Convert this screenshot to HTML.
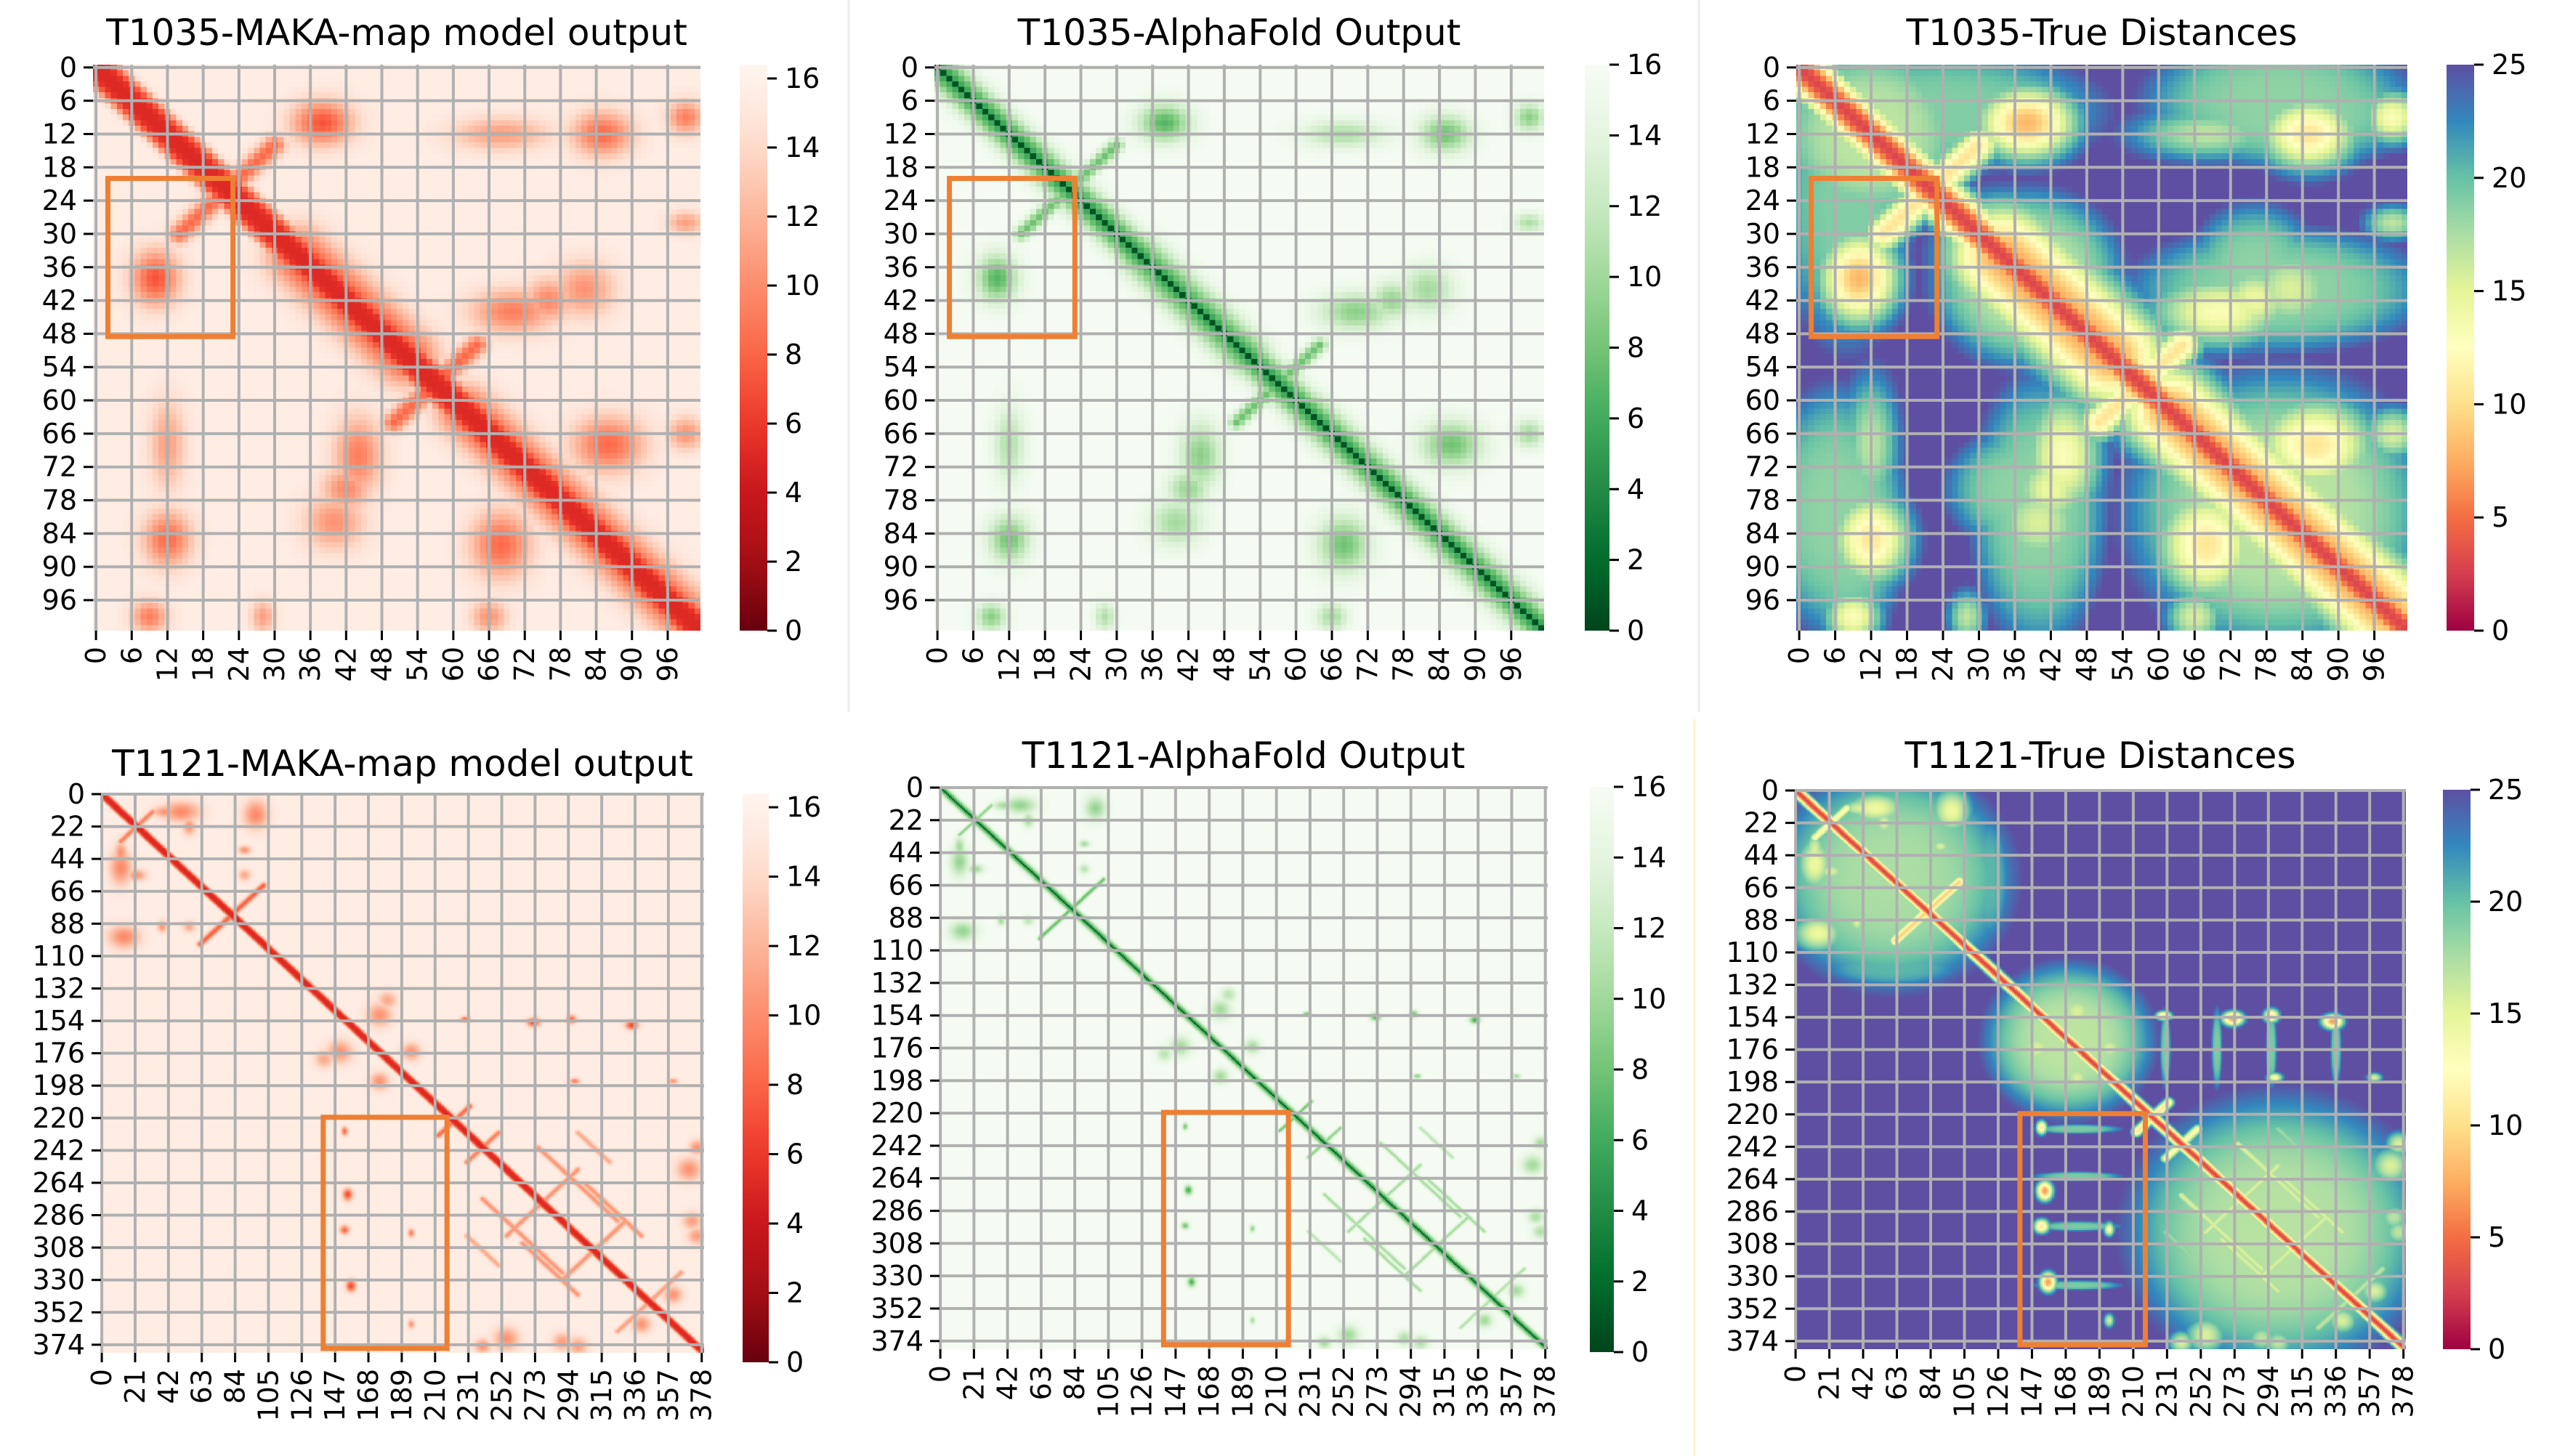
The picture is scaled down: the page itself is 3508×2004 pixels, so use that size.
<!DOCTYPE html>
<html><head><meta charset="utf-8">
<style>
html,body{margin:0;padding:0;background:#fff;}
#root{position:relative;width:3508px;height:2004px;overflow:hidden;background:#fff;font-family:"DejaVu Sans","Liberation Sans",sans-serif;}
canvas{position:absolute;image-rendering:pixelated;}
svg{position:absolute;left:0;top:0;}
</style></head>
<body>
<div id="root">
<svg id="ov" width="3508" height="2004"></svg>
</div>
<script>
// ---------- data: T1035 (102 residues) ----------
const t1035N = 102;
const t1035BlobI  = [10, 12,  9, 44, 12, 40, 68, 28, 66, 42];
const t1035BlobJ  = [38, 85, 99, 70, 68, 82, 86, 99, 99, 76];
const t1035BlobRI = [ 4,  4,  3,  4,  3,  5,  5,  2,  3,  4];
const t1035BlobRJ = [ 5,  5,  3,  7,  8,  5,  6,  3,  3,  4];
const t1035BlobS  = [.8, .7, .6, .6, .45, .5, .7, .45, .5, .55];
const t1035SegI0 = [14, 50, 34, 62];
const t1035SegJ0 = [30, 64, 34, 62];
const t1035SegI1 = [30, 64, 52, 98];
const t1035SegJ1 = [14, 50, 52, 98];
const t1035SegW  = [1.8, 1.8, 5, 4.5];
const t1035SegS  = [.7, .7, .85, .85];
const t1035DomI  = [12, 38, 80,  8, 40, 80, 76, 24];
const t1035DomJ  = [12, 38, 80, 82, 80,  6, 38,  8];
const t1035DomRI = [14, 14, 22,  9, 10, 20, 10, 24];
const t1035DomRJ = [14, 14, 22, 20, 22, 10, 12, 10];
const t1035DomS  = [.45,.45,.45,.38,.38,.38,.38,.36];
// ---------- data: T1121 (380 residues) ----------
const t1121N = 380;
const t1121BlobI  = [12, 14, 12, 22, 38, 55, 150, 175, 140, 153, 155, 153, 157, 195, 195, 255, 240, 300, 290, 340];
const t1121BlobJ  = [50, 97, 40, 55, 90, 90, 175, 195, 180, 229, 272, 296, 334, 298, 360, 370, 375, 375, 372, 360];
const t1121BlobRI = [ 7, 10,  4,  6,  3,  4,   8,   6,   6,   2,   3,   3,   3,   2,   2,   8,   5,   6,   6,   6];
const t1121BlobRJ = [12,  8,  8,  4,  4,  4,   8,   6,   6,   3,   4,   3,   4,   3,   3,   8,   5,   6,   6,   6];
const t1121BlobS  = [.55,.55,.5,.5,.5,.4, .5, .5, .4, .7, .85, .7, .85, .6, .5, .5, .5, .45, .45, .5];
const t1121SegI0 = [ 62, 12, 212, 230, 240, 265, 230, 255, 290, 325];
const t1121SegJ0 = [102, 32, 232, 250, 275, 305, 300, 300, 330, 365];
const t1121SegI1 = [102, 32, 232, 250, 290, 300, 250, 300, 330, 350];
const t1121SegJ1 = [ 62, 12, 212, 230, 325, 340, 320, 255, 290, 340];
const t1121SegW  = [2.2, 2, 2, 2, 2, 2, 2, 2, 2, 2];
const t1121SegS  = [.75, .6, .7, .6, .5, .5, .4, .5, .5, .45];
const t1121DomI  = [60, 170, 300, 175, 175, 175, 175, 60];
const t1121DomJ  = [60, 170, 300, 230, 262, 296, 336, 120];
const t1121DomRI = [65,  45,  80,  25,  25,  25,  25, 40];
const t1121DomRJ = [65,  45,  80,   3,   3,   3,   3, 12];
const t1121DomS  = [.42, .45, .44, .35, .35, .35, .35, .3];
// ---------- tick labels ----------
const topTicks = [0,6,12,18,24,30,36,42,48,54,60,66,72,78,84,90,96];
const botXTicks = [0,21,42,63,84,105,126,147,168,189,210,231,252,273,294,315,336,357,378];
const botYTicks = [0,22,44,66,88,110,132,154,176,198,220,242,264,286,308,330,352,374];
const cb16Ticks = [0,2,4,6,8,10,12,14,16];
const cb25Ticks = [0,5,10,15,20,25];
const boxTop = [2.5, 23.5, 20.5, 49];
const boxBot = [140, 218, 220, 377];

const proteins = {
  T1035:{n:t1035N,bi:t1035BlobI,bj:t1035BlobJ,bri:t1035BlobRI,brj:t1035BlobRJ,bs:t1035BlobS,
    si0:t1035SegI0,sj0:t1035SegJ0,si1:t1035SegI1,sj1:t1035SegJ1,sw:t1035SegW,ss:t1035SegS,
    di:t1035DomI,dj:t1035DomJ,dri:t1035DomRI,drj:t1035DomRJ,ds:t1035DomS},
  T1121:{n:t1121N,bi:t1121BlobI,bj:t1121BlobJ,bri:t1121BlobRI,brj:t1121BlobRJ,bs:t1121BlobS,
    si0:t1121SegI0,sj0:t1121SegJ0,si1:t1121SegI1,sj1:t1121SegJ1,sw:t1121SegW,ss:t1121SegS,
    di:t1121DomI,dj:t1121DomJ,dri:t1121DomRI,drj:t1121DomRJ,ds:t1121DomS}
};

const REDS=["#fff5f0","#fee0d2","#fcbba1","#fc9272","#fb6a4a","#ef3b2c","#cb181d","#a50f15","#67000d"];
const GREENS=["#f7fcf5","#e5f5e0","#c7e9c0","#a1d99b","#74c476","#41ab5d","#238b45","#006d2c","#00441b"];
const SPECTRAL=["#9e0142","#d53e4f","#f46d43","#fdae61","#fee08b","#ffffbf","#e6f598","#abdda4","#66c2a5","#3288bd","#5e4fa2"];
function hex(h){return [parseInt(h.slice(1,3),16),parseInt(h.slice(3,5),16),parseInt(h.slice(5,7),16)];}
function cmap(arr,t){t=Math.max(0,Math.min(1,t));const f=t*(arr.length-1);const k=Math.min(arr.length-2,Math.floor(f));const u=f-k;
  const a=hex(arr[k]),b=hex(arr[k+1]);return [a[0]+(b[0]-a[0])*u,a[1]+(b[1]-a[1])*u,a[2]+(b[2]-a[2])*u];}

const kinds={
  model:{diag:d=>Math.exp(-Math.pow(Math.abs(d)/4.2,4)),rs:1,sm:1,swf:1,dom:false,
    val:c=>15.6-10.5*c,color:(v,vm)=>cmap(REDS,1-v/vm)},
  af:{diag:d=>Math.max(Math.exp(-Math.pow(d/1.2,2)),0.7*Math.exp(-Math.pow(d/4,2))),rs:0.85,sm:0.75,swf:0.7,dom:false,
    val:c=>15.8-15*c,color:(v,vm)=>cmap(GREENS,1-v/vm)},
  tru:{diag:d=>Math.exp(-Math.pow(d/6,2)),rs:1.8,sm:1,swf:2,dom:true,
    val:c=>Math.min(25,28-25*c),color:(v,vm)=>cmap(SPECTRAL,v/vm)}
};
function segDist(i,j,a0,b0,a1,b1){const dx=a1-a0,dy=b1-b0;const L=dx*dx+dy*dy;let t=L?((i-a0)*dx+(j-b0)*dy)/L:0;t=Math.max(0,Math.min(1,t));
  const px=a0+t*dx-i,py=b0+t*dy-j;return Math.sqrt(px*px+py*py);}
function contact(P,K,i,j,scaleN){
  let c=K.diag((i-j)/scaleN);
  for(let m=0;m<P.bi.length;m++){
    const ri=P.bri[m]*K.rs,rj=P.brj[m]*K.rs;
    for(const [a,b] of [[i,j],[j,i]]){const e=Math.pow((a-P.bi[m])/ri,2)+Math.pow((b-P.bj[m])/rj,2);
      if(e<9){const v=P.bs[m]*K.sm*Math.exp(-e);if(v>c)c=v;}}
  }
  for(let m=0;m<P.si0.length;m++){
    for(const [a,b] of [[i,j],[j,i]]){const d=segDist(a,b,P.si0[m],P.sj0[m],P.si1[m],P.sj1[m]);
      const v=P.ss[m]*K.sm*Math.exp(-Math.pow(d/(P.sw[m]*K.swf*scaleN),2));if(v>c)c=v;}
  }
  if(K.dom){for(let m=0;m<P.di.length;m++){
    for(const [a,b] of [[i,j],[j,i]]){const e=Math.pow((a-P.di[m])/P.dri[m],2)+Math.pow((b-P.dj[m])/P.drj[m],2);
      const v=P.ds[m]*Math.exp(-e*e*0.5);if(v>c)c=v;}}}
  return c;
}

const panels=[
 {p:"T1035",k:"model",x0:128,x1:964,y0:89,y1:868,cb:[1018,1056,89,868],title:"T1035-MAKA-map model output",ty:45,xt:topTicks,yt:topTicks,cbt:cb16Ticks,vmax:16.4,box:boxTop,name:"t1035-maka"},
 {p:"T1035",k:"af",x0:1286,x1:2125,y0:89,y1:868,cb:[2181,2215,89,868],title:"T1035-AlphaFold Output",ty:45,xt:topTicks,yt:topTicks,cbt:cb16Ticks,vmax:16,box:boxTop,name:"t1035-alphafold"},
 {p:"T1035",k:"tru",x0:2472,x1:3313,y0:89,y1:868,cb:[3367,3405,89,868],title:"T1035-True Distances",ty:45,xt:topTicks,yt:topTicks,cbt:cb25Ticks,vmax:25,box:boxTop,name:"t1035-true"},
 {p:"T1121",k:"model",x0:139,x1:969,y0:1092,y1:1862,cb:[1022,1058,1092,1875],title:"T1121-MAKA-map model output",ty:1051,xt:botXTicks,yt:botYTicks,cbt:cb16Ticks,vmax:16.4,box:boxBot,name:"t1121-maka"},
 {p:"T1121",k:"af",x0:1293,x1:2130,y0:1083,y1:1857,cb:[2188,2221,1083,1861],title:"T1121-AlphaFold Output",ty:1040,xt:botXTicks,yt:botYTicks,cbt:cb16Ticks,vmax:16,box:boxBot,name:"t1121-alphafold"},
 {p:"T1121",k:"tru",x0:2470,x1:3311,y0:1087,y1:1857,cb:[3362,3400,1087,1857],title:"T1121-True Distances",ty:1040,xt:botXTicks,yt:botYTicks,cbt:cb25Ticks,vmax:25,box:boxBot,name:"t1121-true"}
];

const root=document.getElementById('root');
const ov=document.getElementById('ov');
const NS="http://www.w3.org/2000/svg";
function S(tag,attrs,parent){const e=document.createElementNS(NS,tag);for(const k in attrs)e.setAttribute(k,attrs[k]);(parent||ov).appendChild(e);return e;}

const sep1=S('line',{x1:1168,y1:0,x2:1168,y2:980,stroke:'#eeeeee','stroke-width':3});


const sep2=S('line',{x1:2338,y1:0,x2:2338,y2:980,stroke:'#eeeeee','stroke-width':3});


const sep3=S('line',{x1:2332,y1:990,x2:2332,y2:2004,stroke:'#fbf6c8','stroke-width':3});



panels.forEach((pn,idx)=>{
  const P=proteins[pn.p],K=kinds[pn.k],n=P.n;
  const scaleN=n>200?0.9:1;
  const cv=document.createElement('canvas');
  cv.width=n;cv.height=n;
  cv.style.left=pn.x0+'px';cv.style.top=pn.y0+'px';
  cv.style.width=(pn.x1-pn.x0)+'px';cv.style.height=(pn.y1-pn.y0)+'px';
  
  
  root.insertBefore(cv,ov);
  const ctx=cv.getContext('2d');const img=ctx.createImageData(n,n);
  for(let i=0;i<n;i++)for(let j=0;j<n;j++){
    const c=contact(P,K,i,j,scaleN);const v=K.val(c);const col=K.color(v,pn.vmax);
    const o=(i*n+j)*4;img.data[o]=col[0];img.data[o+1]=col[1];img.data[o+2]=col[2];img.data[o+3]=255;}
  ctx.putImageData(img,0,0);

  const g=S('g',{});
  
  
  const sx=c=>pn.x0+(c+0.5)*(pn.x1-pn.x0)/n;
  const sy=r=>pn.y0+(r+0.5)*(pn.y1-pn.y0)/n;
  const bx=c=>pn.x0+c*(pn.x1-pn.x0)/n;
  const by=r=>pn.y0+r*(pn.y1-pn.y0)/n;
  pn.xt.forEach(t=>{const l=S('line',{x1:sx(t),x2:sx(t),y1:pn.y0,y2:pn.y1,stroke:'#b0b0b0','stroke-width':4},g);
    
    });
  pn.yt.forEach(t=>{const l=S('line',{y1:sy(t),y2:sy(t),x1:pn.x0,x2:pn.x1,stroke:'#b0b0b0','stroke-width':4},g);
    
    });
  pn.yt.forEach(t=>{S('line',{x1:pn.x0-13,x2:pn.x0,y1:sy(t),y2:sy(t),stroke:'#000','stroke-width':3},g);
    const tx=S('text',{x:pn.x0-22,y:sy(t),'text-anchor':'end','dominant-baseline':'central','font-size':38,fill:'#000'},g);
    tx.textContent=t;
    
    });
  pn.xt.forEach(t=>{S('line',{x1:sx(t),x2:sx(t),y1:pn.y1,y2:pn.y1+13,stroke:'#000','stroke-width':3},g);
    const X=sx(t),Y=pn.y1+22;
    const tx=S('text',{x:X,y:Y,'text-anchor':'end','dominant-baseline':'central','font-size':38,fill:'#000',transform:`rotate(-90 ${X} ${Y})`},g);
    tx.textContent=t;
    
    });
  const b=pn.box;
  const r=S('rect',{x:bx(b[0]),y:by(b[2]),width:bx(b[1])-bx(b[0]),height:by(b[3])-by(b[2]),fill:'none',stroke:'#ee7f33','stroke-width':7},g);
  
  
  const ti=S('text',{x:(pn.x0+pn.x1)/2,y:pn.ty,'text-anchor':'middle','dominant-baseline':'central','font-size':50,fill:'#000'},g);
  ti.textContent=pn.title;
  
  
  const [c0,c1,cy0,cy1]=pn.cb;
  const gid='grad'+idx;
  const lg=S('linearGradient',{id:gid,x1:0,y1:1,x2:0,y2:0},g);
  for(let s=0;s<=20;s++){const v=pn.vmax*s/20;const col=K.color(v,pn.vmax);
    S('stop',{offset:(s/20),'stop-color':`rgb(${col.map(Math.round).join(',')})`},lg);}
  const cr=S('rect',{x:c0,y:cy0,width:c1-c0,height:cy1-cy0,fill:`url(#${gid})`},g);
  
  
  pn.cbt.forEach(t=>{const y=cy1-t/pn.vmax*(cy1-cy0);
    S('line',{x1:c1,x2:c1+13,y1:y,y2:y,stroke:'#000','stroke-width':3},g);
    const tx=S('text',{x:c1+24,y:y,'text-anchor':'start','dominant-baseline':'central','font-size':38,fill:'#000'},g);
    tx.textContent=t;
    
    });
});
</script>
</body></html>
